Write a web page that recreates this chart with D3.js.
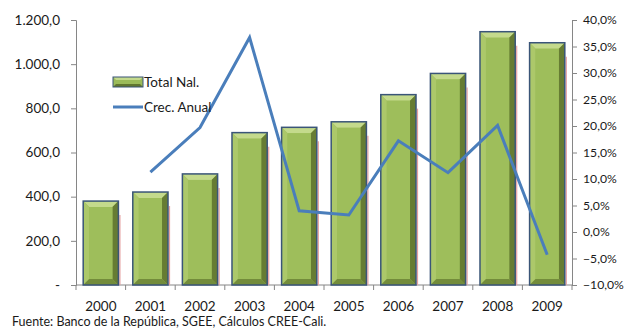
<!DOCTYPE html>
<html>
<head>
<meta charset="utf-8">
<script src="https://cdn.jsdelivr.net/npm/d3@7"></script>
<style>
  html, body { margin: 0; padding: 0; background: #fff; }
  svg { display: block; font-family: Lato, "Noto Sans", sans-serif; }
</style>
</head>
<body>
<svg id="chart" width="624" height="329"></svg>
<script>
// Total nacional por año (barras, eje izquierdo) y crecimiento anual (línea, eje derecho)
const years = ["2000", "2001", "2002", "2003", "2004", "2005", "2006", "2007", "2008", "2009"];
const totalNal = [380, 421, 503, 690, 714, 739, 862, 958, 1147, 1097];
const crecAnual = [null, 11.3, 19.7, 36.7, 4.0, 3.2, 17.2, 11.2, 20.1, -4.3];
const leftTicks = [0, 200, 400, 600, 800, 1000, 1200];
const rightTicks = [-10, -5, 0, 5, 10, 15, 20, 25, 30, 35, 40];
const seriesNames = ["Total Nal.", "Crec. Anual"];
const sourceNote = "Fuente: Banco de la República, SGEE, Cálculos CREE-Cali.";

const svg = d3.select("#chart");
const plot = { left: 76, right: 572, top: 20, bottom: 285 };
const fontFamily = "Lato, 'Noto Sans', sans-serif";

const x = d3.scaleBand().domain(years).range([plot.left, plot.right]).paddingInner(0.29).paddingOuter(0.145);
const xc = d3.scaleBand().domain(years).range([plot.left, plot.right]);
const yL = d3.scaleLinear().domain([0, 1200]).range([plot.bottom, plot.top]);
const yR = d3.scaleLinear().domain([-10, 40]).range([plot.bottom, plot.top]);

const fmtL = v => v === 0 ? "-" : d3.format(",.1f")(v).replace(/,/g, "#").replace(".", ",").replace(/#/g, ".");
const fmtR = v => d3.format(".1f")(v).replace(".", ",") + "%";

const axisColor = "#868686";
const textColor = "#1a1a1a";

// Left axis
const gL = svg.append("g").attr("transform", `translate(${plot.left},0)`)
  .call(d3.axisLeft(yL).tickValues(leftTicks).tickSize(5).tickPadding(11).tickFormat(fmtL));
// Right axis
const gR = svg.append("g").attr("transform", `translate(${plot.right},0)`)
  .call(d3.axisRight(yR).tickValues(rightTicks).tickSize(5).tickPadding(6).tickFormat(fmtR));
// Bottom axis (category labels)
const gB = svg.append("g").attr("transform", `translate(0,${plot.bottom})`)
  .call(d3.axisBottom(xc).tickSize(0).tickPadding(16));

[gL, gR, gB].forEach(g => {
  g.selectAll(".domain").attr("stroke", axisColor);
  g.selectAll(".tick line").attr("stroke", axisColor);
  g.selectAll("text").attr("fill", textColor).style("font-size", "13.5px")
    .style("font-family", fontFamily);
});
gR.selectAll("text").style("font-size", "12.2px");
gB.select(".domain").attr("d", `M${plot.left},0H${plot.right}`);
// category separators on x axis
const bounds = d3.range(years.length + 1).map(i => plot.left + i * xc.step());
svg.append("g").selectAll("line").data(bounds).join("line")
  .attr("x1", d => d).attr("x2", d => d)
  .attr("y1", plot.bottom).attr("y2", plot.bottom + 5)
  .attr("stroke", axisColor);

// Bars with bevel
const bevel = 6;
const bars = svg.append("g");
totalNal.forEach((v, i) => {
  const x0 = x(years[i]), x1 = x0 + x.bandwidth();
  const y0 = yL(v), y1 = yL(0);
  const g = bars.append("g");
  // faint shadow to the right
  g.append("line").attr("x1", x1 + 1.5).attr("x2", x1 + 1.5)
    .attr("y1", y0 + 14).attr("y2", y1).attr("stroke", "#e6a1a1").attr("stroke-width", 1.2);
  // face
  g.append("rect").attr("x", x0).attr("y", y0).attr("width", x1 - x0).attr("height", y1 - y0).attr("fill", "#9bbb59");
  const ix0 = x0 + bevel, ix1 = x1 - bevel, iy0 = y0 + bevel, iy1 = y1 - bevel;
  const poly = (pts, fill) => g.append("polygon").attr("points", pts.map(p => p.join(",")).join(" ")).attr("fill", fill);
  poly([[x0, y0], [x1, y0], [ix1, iy0], [ix0, iy0]], "#c4da8c");
  poly([[x0, y0], [ix0, iy0], [ix0, iy1], [x0, y1]], "#acc86a");
  poly([[x1, y0], [x1, y1], [ix1, iy1], [ix1, iy0]], "#667c33");
  poly([[x0, y1], [ix0, iy1], [ix1, iy1], [x1, y1]], "#738c3b");
  g.append("rect").attr("x", ix0).attr("y", iy0).attr("width", ix1 - ix0).attr("height", iy1 - iy0).attr("fill", "#9ebe5b");
  g.append("rect").attr("x", x0).attr("y", y0).attr("width", x1 - x0).attr("height", y1 - y0)
    .attr("fill", "none").attr("stroke", "#3a5578").attr("stroke-width", 1.5);
});

// Growth line
const line = d3.line()
  .defined(d => d.v !== null)
  .x(d => xc(d.year) + xc.bandwidth() / 2)
  .y(d => yR(d.v));
svg.append("path")
  .datum(years.map((year, i) => ({ year, v: crecAnual[i] })))
  .attr("d", line).attr("fill", "none")
  .attr("stroke", "#4a7ebb").attr("stroke-width", 3).attr("stroke-linejoin", "miter");

// Legend
const lg = svg.append("g");
{
  const lx = 113, ly = 77, w = 30, h = 10, b = 3;
  lg.append("rect").attr("x", lx).attr("y", ly).attr("width", w).attr("height", h).attr("fill", "#9bbb59");
  lg.append("polygon").attr("points", `${lx},${ly} ${lx + w},${ly} ${lx + w - b},${ly + b} ${lx + b},${ly + b}`).attr("fill", "#c4da8c");
  lg.append("polygon").attr("points", `${lx},${ly + h} ${lx + w},${ly + h} ${lx + w - b},${ly + h - b} ${lx + b},${ly + h - b}`).attr("fill", "#61762f");
  lg.append("rect").attr("x", lx).attr("y", ly).attr("width", w).attr("height", h)
    .attr("fill", "none").attr("stroke", "#3a5578").attr("stroke-width", 1);
  lg.append("line").attr("x1", lx).attr("x2", lx + w).attr("y1", 107).attr("y2", 107)
    .attr("stroke", "#4a7ebb").attr("stroke-width", 3);
  lg.selectAll("text").data(seriesNames).join("text")
    .attr("x", lx + w + 1).attr("y", (d, i) => 87 + i * 25)
    .attr("fill", textColor).style("font-size", "13.5px").style("font-family", fontFamily).text(d => d);
}

// Source note
svg.append("text").attr("x", 12).attr("y", 326).attr("fill", textColor)
  .style("font-size", "12.5px").style("font-family", fontFamily).text(sourceNote);
</script>
</body>
</html>
